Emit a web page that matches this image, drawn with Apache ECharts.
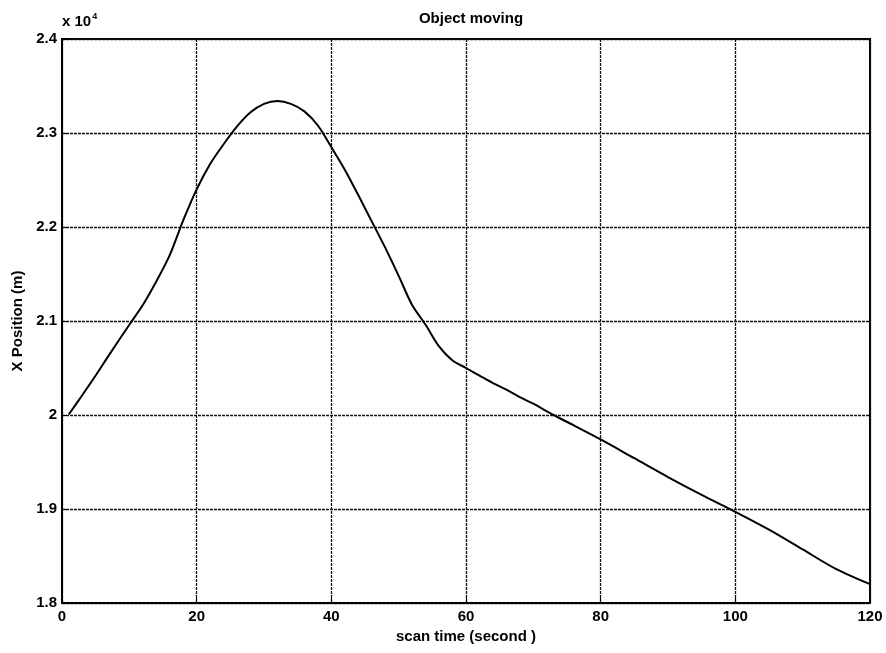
<!DOCTYPE html>
<html>
<head>
<meta charset="utf-8">
<script src="https://cdn.jsdelivr.net/npm/echarts@6/dist/echarts.min.js"></script>
<style>
  html, body { margin: 0; padding: 0; background: #fff; }
  #chart { width: 886px; height: 653px; }
</style>
</head>
<body>
<div id="chart"></div>
<script>
// Scan time (s) and X position (m) of the tracked object
const scanTime = [1, 3, 5, 7, 10, 12, 14, 16, 18, 20, 22, 24, 26, 28, 30, 32, 34, 36, 38, 40,
  42, 44, 46, 48, 50, 52, 54, 56, 58, 60, 62, 64, 66, 68, 70, 73, 76, 80, 85, 90, 95, 100,
  105, 110, 115, 120];
const xPosition = [20005, 20210, 20420, 20640, 20960, 21170, 21420, 21700, 22070, 22400,
  22670, 22880, 23070, 23220, 23310, 23340, 23310, 23230, 23080, 22850,
  22610, 22340, 22060, 21780, 21480, 21170, 20960, 20730, 20580, 20500,
  20420, 20340, 20270, 20190, 20120, 20000, 19890, 19740, 19540, 19340, 19150, 18970,
  18780, 18570, 18360, 18200];
const xTicks = [0, 20, 40, 60, 80, 100, 120];
const yTicks = [18000, 19000, 20000, 21000, 22000, 23000, 24000];

const FONT = '"Liberation Sans", Arial, sans-serif';
const chart = echarts.init(document.getElementById('chart'));

const gridLine = { show: true, lineStyle: { color: '#111', width: 1.3, type: [3, 1] } };

chart.setOption({
  animation: false,
  backgroundColor: '#ffffff',
  title: {
    text: 'Object moving',
    left: 466,
    top: 6,
    textAlign: 'center',
    textStyle: { fontFamily: FONT, fontWeight: 'bold', fontSize: 15, color: '#000' }
  },
  grid: {
    left: 62, right: 16, top: 39, bottom: 50,
    show: true, borderColor: '#000', borderWidth: 2, backgroundColor: 'transparent'
  },
  xAxis: {
    type: 'value',
    min: xTicks[0], max: xTicks[xTicks.length - 1], interval: 20,
    name: 'scan time (second )',
    nameLocation: 'middle',
    nameGap: 26,
    nameTextStyle: { fontFamily: FONT, fontWeight: 'bold', fontSize: 15, color: '#000' },
    axisLine: { show: true, lineStyle: { color: '#000', width: 2 } },
    axisTick: { show: true, inside: true, length: 5, lineStyle: { color: '#000' } },
    axisLabel: { fontFamily: FONT, fontWeight: 'bold', fontSize: 15, color: '#000', margin: 6 },
    splitLine: gridLine
  },
  yAxis: {
    type: 'value',
    min: yTicks[0], max: yTicks[yTicks.length - 1], interval: 1000,
    name: 'X Position (m)',
    nameLocation: 'middle',
    nameGap: 37,
    nameTextStyle: { fontFamily: FONT, fontWeight: 'bold', fontSize: 15, color: '#000' },
    axisLine: { show: true, lineStyle: { color: '#000', width: 2 } },
    axisTick: { show: true, inside: true, length: 5, lineStyle: { color: '#000' } },
    axisLabel: {
      fontFamily: FONT, fontWeight: 'bold', fontSize: 15, color: '#000', margin: 5,
      formatter: v => String(+(v / 10000).toFixed(1))
    },
    splitLine: gridLine
  },
  graphic: [{
    type: 'text',
    left: 62,
    top: 12,
    style: {
      text: '{b|x 10}{s|4}',
      rich: {
        b: { fontFamily: FONT, fontWeight: 'bold', fontSize: 15, fill: '#000', verticalAlign: 'bottom' },
        s: { fontFamily: FONT, fontWeight: 'bold', fontSize: 9, fill: '#000', verticalAlign: 'top', padding: [0, 0, 8, 1] }
      }
    }
  }],
  series: [{
    type: 'line',
    data: scanTime.map((t, i) => [t, xPosition[i]]),
    showSymbol: false,
    smooth: 0.3,
    lineStyle: { color: '#000', width: 2 }
  }]
});
</script>
</body>
</html>
